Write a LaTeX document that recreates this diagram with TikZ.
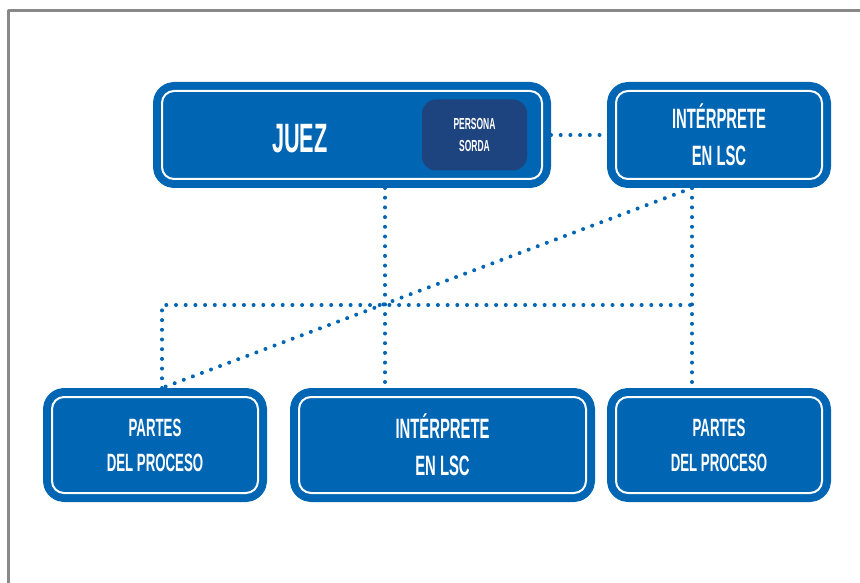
\documentclass[tikz,border=0pt]{standalone}
\usepackage{fontspec}
\newfontfamily\condfont[FakeStretch=0.53]{Liberation Sans}
\usetikzlibrary{positioning}

\definecolor{boxblue}{RGB}{0,101,179}
\definecolor{sordablue}{RGB}{30,68,128}
\definecolor{framegray}{RGB}{136,136,136}

\tikzset{
  caja/.style={draw=white, line width=2pt, fill=boxblue, rounded corners=12pt,
    preaction={draw=boxblue, line width=18pt},
    inner sep=0pt, outer sep=9pt, text=white, align=center,
    font=\condfont\bfseries\fontsize{28}{37}\selectfont},
  sorda/.style={fill=sordablue, rounded corners=14pt, inner sep=0pt, outer sep=0pt,
    text=white, align=center, minimum width=105pt, minimum height=71pt,
    font=\condfont\bfseries\fontsize{16}{22}\selectfont},
  puntos/.style={boxblue, line width=4pt, line cap=round, dash pattern=on 0pt off 9.7pt},
}

\begin{document}
\begin{tikzpicture}[line join=round,x=1pt,y=-1pt]
\useasboundingbox (0,0) rectangle (860,583);

\draw [framegray, line width=2.5pt] (8.5,583) -- (8.5,10.5) -- (860,10.5);

\node [caja, minimum width=380pt, minimum height=88pt,
  font=\condfont\bfseries\fontsize{41}{41}\selectfont] (juez) at (352,135) {\makebox[160pt][l]{\raisebox{-4pt}[28pt][0pt]{JUEZ}}};
\node [sorda, left=24pt of juez.east] (persona) {PERSONA\\SORDA};
\node [caja, minimum width=206pt, minimum height=88pt, right=56pt of juez] (interp) {INTÉRPRETE\\EN LSC};

\node [caja, minimum width=206pt, minimum height=96pt, font=\condfont\bfseries\fontsize{25}{35}\selectfont] (izq) at (155,445) {PARTES\\DEL PROCESO};
\node [caja, minimum width=287pt, minimum height=96pt, right=23pt of izq] (mid) {INTÉRPRETE\\EN LSC};
\node [caja, minimum width=206pt, minimum height=96pt, font=\condfont\bfseries\fontsize{25}{35}\selectfont,
  right=12pt of mid] (der) {PARTES\\DEL PROCESO};

\coordinate (lx) at (162,305);
\coordinate (cx) at (385,305);
\coordinate (rx) at (692,305);

\draw [puntos] (juez.east) -- (interp.west);
\draw [puntos] (juez.south -| cx) -- (mid.north -| cx);
\draw [puntos] (interp.south -| rx) -- (der.north -| rx);
\draw [puntos] (izq.north -| lx) -- (lx) -- (rx);
\draw [puntos] (interp.south -| rx) -- (izq.north -| lx);

\end{tikzpicture}
\end{document}
